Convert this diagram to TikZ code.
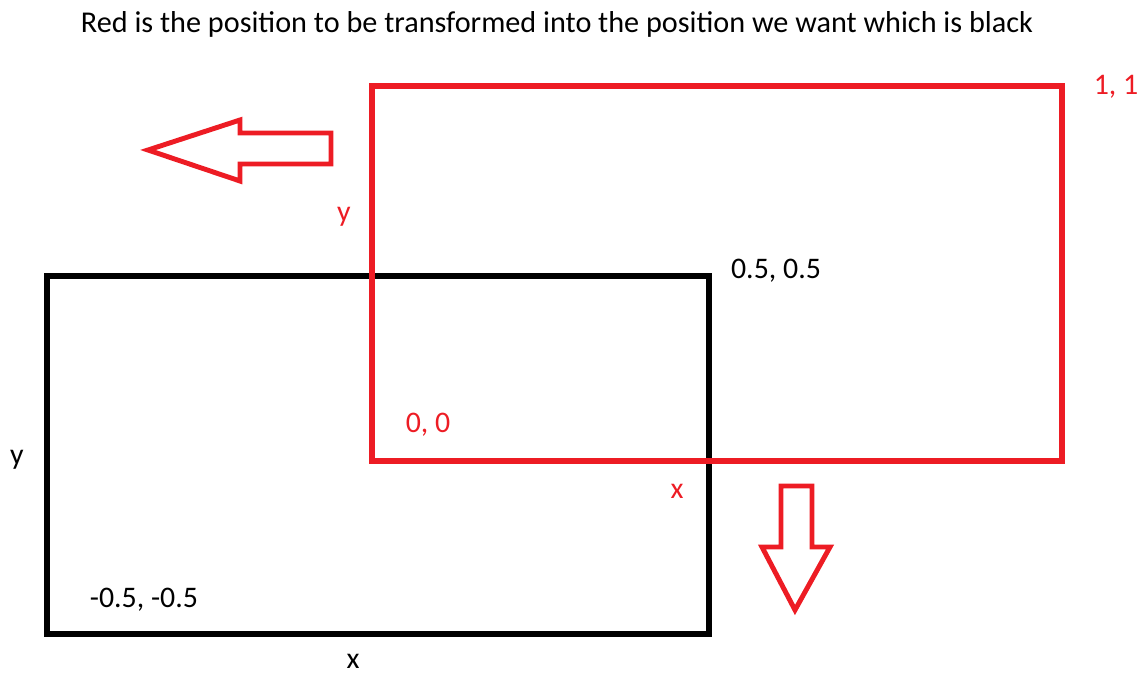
\documentclass[tikz,border=0pt]{standalone}
\usepackage{fontspec}
\setmainfont{Carlito}
\usetikzlibrary{positioning}

\definecolor{paintred}{HTML}{ED1C24}

\begin{document}
\begin{tikzpicture}[x=0.02cm, y=-0.02cm, every node/.style={font=\fontsize{17}{20}\selectfont, inner sep=1pt},
    box/.style={line width=3.3pt, line join=miter},
    redlabel/.style={text=paintred}]

        \useasboundingbox (0,0) rectangle (1143,677);

        % Title
        \node (title) at (557,24) {\fontsize{17.2}{20}\selectfont Red is the position to be transformed into the position we want which is black};

        % Black: target position
        \coordinate (BL) at (47,634);
        \coordinate (TR) at (709,276);
        \draw[box] (BL) rectangle (TR);

        \node (blackcorner) at (776,271) {0.5, 0.5};
        \node (blackorigin) at (144,600) {-0.5, -0.5};
        \node (blacky) at (17,460) {y};
        \node (blackx) at (353,661) {x};

        % Red: position to transform
        \coordinate (rBL) at (372,461);
        \coordinate (rTR) at (1062,86);
        \draw[box, paintred] (rBL) rectangle (rTR);

        \node[redlabel] (redcorner) at (1116,87) {1, 1};
        \node[redlabel] (redorigin) at (428,425) {0, 0};
        \node[redlabel] (redy) at (344,217) {y};
        \node[redlabel] (redx) at (677,491) {x};

        % Left arrow
        \draw[line width=2.8pt, paintred, line join=miter]
            (148,150) -- (240,120) -- (240,133) -- (331,133) -- (331,164)
            -- (240,164) -- (240,181) -- cycle;

        % Down arrow
        \draw[line width=2.8pt, paintred, line join=miter]
            (781,486) -- (812,486) -- (812,547) -- (830,547) -- (795,610)
            -- (762,547) -- (781,547) -- cycle;

    \end{tikzpicture}
\end{document}
